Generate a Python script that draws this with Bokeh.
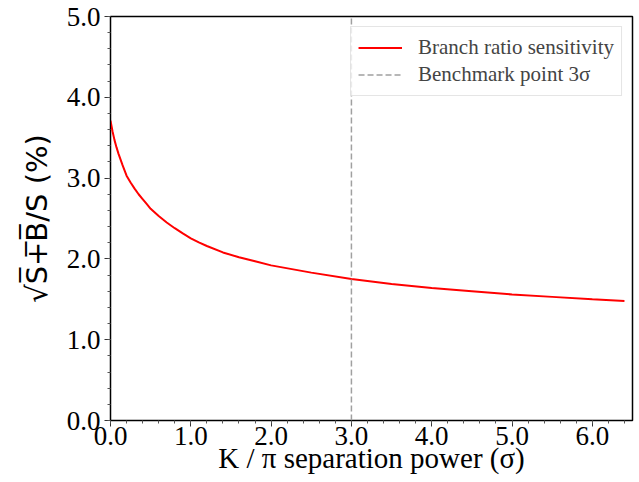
from bokeh.plotting import figure
from bokeh.models import Range1d, SingleIntervalTicker, PrintfTickFormatter, Legend, LegendItem
from bokeh.embed import file_html
from bokeh.resources import INLINE

# data
separation = [0.0, 0.025, 0.05, 0.075, 0.1, 0.15, 0.2, 0.25, 0.3, 0.35, 0.4, 0.45, 0.5, 0.6, 0.7,
              0.8, 0.9, 1.0, 1.1, 1.2, 1.4, 1.6, 1.8, 2.0, 2.5, 3.0, 3.5, 4.0, 4.5, 5.0, 5.5, 6.0, 6.4]
sensitivity = [3.71, 3.58, 3.47, 3.38, 3.30, 3.16, 3.03, 2.945, 2.87, 2.80, 2.74, 2.68, 2.62, 2.53, 2.45,
               2.38, 2.315, 2.255, 2.205, 2.16, 2.08, 2.02, 1.97, 1.92, 1.83, 1.75, 1.69, 1.64, 1.60,
               1.56, 1.53, 1.50, 1.48]
benchmark_x = [3.0, 3.0]
benchmark_y = [0.0, 5.0]
x_limits = [0.0, 6.5]
y_limits = [0.0, 5.0]

p = figure(width=639, height=482, output_backend="svg", toolbar_location=None,
           x_range=Range1d(*x_limits), y_range=Range1d(*y_limits),
           min_border_left=110, min_border_right=7, min_border_top=16, min_border_bottom=62)
p.xgrid.visible = False
p.ygrid.visible = False
p.outline_line_color = "black"
p.outline_line_width = 1.5
p.outline_line_alpha = 1.0

for ax in (p.xaxis[0], p.yaxis[0]):
    ax.ticker = SingleIntervalTicker(interval=1, num_minor_ticks=5)
    ax.formatter = PrintfTickFormatter(format="%.1f")
    ax.major_tick_out = 6
    ax.major_tick_in = 0
    ax.minor_tick_out = 3
    ax.minor_tick_in = 0
    ax.major_tick_line_color = "#333333"
    ax.minor_tick_line_color = "#555555"
    ax.axis_line_color = "black"
    ax.major_label_text_font = "Liberation Serif"
    ax.major_label_text_font_size = "27px"
    ax.major_label_text_color = "black"

p.xaxis.major_label_standoff = 0
p.xaxis.axis_label = "K / \u03c0 separation power (\u03c3)"
p.xaxis.axis_label_text_font = "Liberation Serif"
p.xaxis.axis_label_text_font_style = "normal"
p.xaxis.axis_label_text_font_size = "29px"
p.xaxis.axis_label_text_color = "black"
p.xaxis.axis_label_standoff = -6

p.yaxis.major_label_standoff = 4
p.yaxis.axis_label = "\u221aS\u0305+\u0305B\u0305/S (%)"
p.yaxis.axis_label_text_font = "DejaVu Sans"
p.yaxis.axis_label_text_font_style = "normal"
p.yaxis.axis_label_text_font_size = "29px"
p.yaxis.axis_label_text_color = "black"
p.yaxis.axis_label_standoff = 10

r1 = p.line(separation, sensitivity, line_color="red", line_width=2)
r2 = p.line(benchmark_x, benchmark_y, line_color="#a0a0a0", line_width=1.5, line_dash="6 3")

legend = Legend(items=[LegendItem(label="Branch ratio sensitivity", renderers=[r1]),
                       LegendItem(label="Benchmark point 3\u03c3", renderers=[r2])],
                location="top_right")
legend.margin = 10
legend.padding = 7
legend.spacing = 0
legend.glyph_width = 44
legend.glyph_height = 27
legend.label_height = 27
legend.label_standoff = 16
legend.label_text_font = "Liberation Serif"
legend.label_text_font_size = "21px"
legend.border_line_color = "#cccccc"
legend.border_line_width = 1
legend.background_fill_alpha = 0.8
p.add_layout(legend)

open("out.html", "w").write(file_html(p, INLINE))
